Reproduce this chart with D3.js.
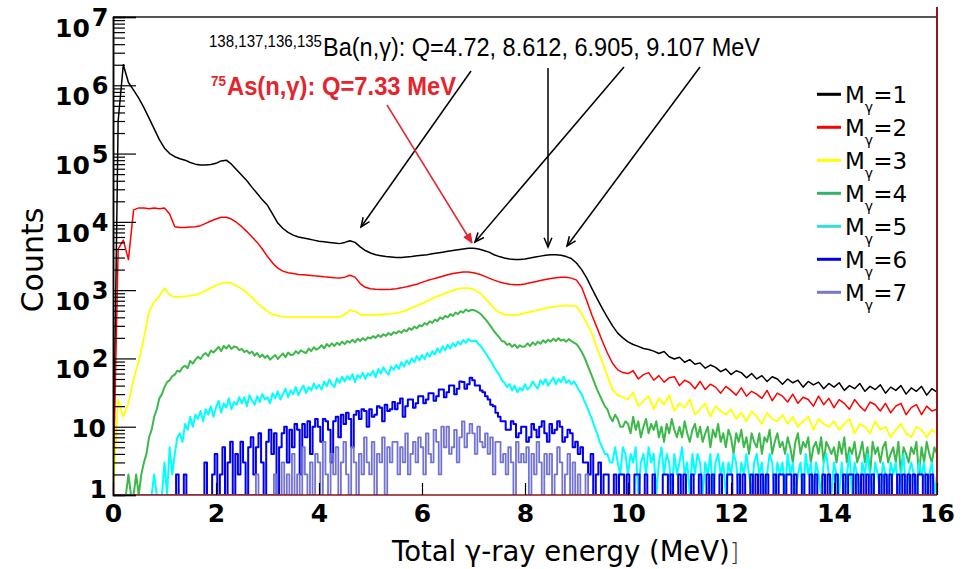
<!DOCTYPE html>
<html><head><meta charset="utf-8">
<script src="https://cdn.jsdelivr.net/npm/d3@7"></script>
<style>body{margin:0;background:#fff}svg{display:block}</style>
</head><body><svg id="c" width="973" height="569"></svg>
<script>
// ---------------- DATA ----------------
// histogram bin widths (MeV): M=1..3 stored every 0.1 MeV (161 bins), M=4..7 every 0.05 MeV (321 bins)
const seriesBinWidth = [0.1,0.1,0.1,0.05,0.05,0.05,0.05];
const legendNames = ["1","2","3","4","5","6","7"];
const seriesColors = ["#000000","#ff0000","#ffff00","#3cb94a","#00ffff","#0000ee","#7373d2"];
const legendColors = ["#000000","#ff0000","#ffff00","#33b36a","#33dddd","#0000ee","#7878c8"];

const m1 = [
1,3e5,2.0e6,1.1e6,8.5e5,6.5e5,4.7e5,3.3e5,2.3e5,1.6e5,
1.2e5,1.0e5,9.0e4,8.4e4,8.0e4,7.4e4,7.0e4,6.8e4,6.8e4,6.9e4,
7.2e4,7.8e4,8.0e4,7.0e4,5.8e4,4.8e4,4.0e4,3.2e4,2.6e4,2.1e4,
1.75e4,1.3e4,9.6e3,8.0e3,7.0e3,6.4e3,6.0e3,5.8e3,5.6e3,5.4e3,
5.2e3,5.1e3,5.0e3,4.9e3,4.8e3,5.0e3,5.3e3,5.0e3,4.3e3,3.8e3,
3.5e3,3.3e3,3.2e3,3.1e3,3.05e3,3.0e3,3.0e3,3.05e3,3.1e3,3.2e3,
3.25e3,3.3e3,3.4e3,3.5e3,3.6e3,3.7e3,3.8e3,3.9e3,4.0e3,4.1e3,
4.1e3,4.0e3,3.8e3,3.6e3,3.3e3,3.1e3,2.95e3,2.85e3,2.8e3,2.8e3,
2.85e3,2.95e3,3.05e3,3.15e3,3.25e3,3.3e3,3.3e3,3.25e3,3.1e3,2.9e3,
2.5e3,2.0e3,1.5e3,1.05e3,750,540,400,300,235,200,
175,160,150,140,135,128,118,126,106,98,
104,88,96,82,86,72,80,74,64,70,
58,66,62,52,60,50,56,46,54,50,
42,50,44,48,38,46,41,45,36,43,
38,44,34,40,36,43,33,39,35,41,
31,38,34,40,30,37,33,39,29,36,
32];
const m2 = [
1,4000,5400,2800,1.5e4,1.6e4,1.6e4,1.55e4,1.6e4,1.55e4,
1.6e4,1.3e4,8.5e3,8.3e3,8.3e3,8.4e3,8.5e3,8.8e3,9.5e3,1.03e4,
1.1e4,1.17e4,1.17e4,1.1e4,9.8e3,8.5e3,7.2e3,6.0e3,5.0e3,4.0e3,
3.1e3,2.5e3,2.1e3,1.9e3,1.8e3,1.75e3,1.7e3,1.68e3,1.65e3,1.62e3,
1.6e3,1.57e3,1.55e3,1.52e3,1.5e3,1.55e3,1.65e3,1.55e3,1.25e3,1.1e3,
1.05e3,1.03e3,1.02e3,1.02e3,1.03e3,1.05e3,1.08e3,1.12e3,1.17e3,1.22e3,
1.3e3,1.38e3,1.45e3,1.52e3,1.6e3,1.68e3,1.75e3,1.8e3,1.85e3,1.85e3,
1.8e3,1.72e3,1.62e3,1.5e3,1.4e3,1.32e3,1.26e3,1.22e3,1.2e3,1.2e3,
1.23e3,1.28e3,1.33e3,1.38e3,1.43e3,1.48e3,1.52e3,1.55e3,1.55e3,1.5e3,
1.4e3,1.1e3,700,430,280,180,120,85,68,62,
60,66,50,58,62,48,56,45,52,54,
40,48,44,36,46,35,42,38,31,39,
34,29,37,28,33,30,26,34,24,31,
28,23,30,22,27,25,20,28,21,26,
19,25,22,18,25,20,17,23,21,17,
22,16,20,22,15,19,21,15,20,17,
18];
const m3 = [
1,25,14,22,50,90,200,480,680,820,
1070,850,790,800,810,830,850,900,980,1080,
1180,1260,1300,1260,1150,1050,920,780,650,560,
490,440,420,410,405,405,405,405,405,405,
405,405,405,405,405,440,510,490,440,430,
430,435,440,445,450,460,480,510,550,590,
640,690,750,810,870,930,990,1040,1070,1070,
1030,930,800,660,540,470,440,430,430,440,
460,480,500,520,545,565,580,590,600,590,
580,450,330,230,140,90,55,35,29,27,
25,32,20,24,28,18,26,21,29,17,
22,19,25,15,18,22,14,20,17,15,
18,13,16,12,17,14,11,16,13,12,
15,11,14,10,12,14,9,13,11,10,
12,9,11,13,8,11,10,8,12,9,
10,7,9,11,8,7,10,9,7,9,
8];
const m4 = [
1,1,1,1,1,1,2,1,1,2,
1,2,3,4,7,9,14,18,26,30,
38,45,48,55,58,66,64,74,78,72,
92,84,96,106,98,112,120,108,130,122,
134,148,128,152,140,156,138,150,146,132,
138,124,130,118,126,110,120,104,114,102,
110,96,104,112,98,108,118,104,122,112,
114,128,118,132,124,120,140,128,146,134,
142,156,140,162,150,166,152,170,158,176,
162,180,170,188,172,194,180,198,184,204,
196,212,200,220,206,226,214,236,220,242,
232,252,238,262,250,278,262,292,276,306,
296,330,312,350,330,372,352,400,378,420,
400,445,420,470,445,492,470,520,490,512,
510,495,470,440,400,360,320,285,250,225,
204,180,176,158,164,148,160,142,156,148,
150,166,152,172,158,176,164,184,170,188,
176,194,180,198,182,190,176,192,180,170,
162,145,125,105,85,68,55,44,35,29,
24,20,18,14,12,15,13,10,10,12,
11,8,14,9,12,7,10,13,8,11,
9,12,7,10,6,11,8,13,9,7,
10,7,12,8,6,9,11,7,10,6,
8,10,5,9,7,11,6,8,5,9,
7,4,8,6,9,5,7,4,8,6,
5,8,4,7,6,9,4,6,8,5,
6,4,7,5,3,6,8,4,6,5,
7,3,5,6,4,7,3,6,5,4,
5,3,6,4,7,3,5,4,6,3,
4,6,3,5,2,6,4,5,3,5,
6,3,4,5,3,6,2,5,4,3,
5,4,6,2,5,3,6,4,3,5,
4];
const m5 = [
1,1,1,1,1,1,1,1,1,1,
1,1,1,1,1,1,2,1,1,1,
3,1,5,2,4,7,8,6,11,9,
14,10,15,13,17,12,18,15,20,14,
19,24,16,22,19,26,18,23,21,27,
22,27,20,29,24,21,28,23,30,25,
27,22,31,26,33,25,30,36,27,34,
30,38,29,35,40,31,38,34,43,36,
41,35,46,39,49,42,38,51,44,54,
46,55,49,59,45,57,52,62,50,60,
56,66,53,70,60,74,64,58,76,68,
80,70,88,76,94,82,100,88,108,94,
112,98,120,106,128,114,140,122,150,132,
158,140,168,150,176,160,186,170,192,178,
180,182,160,150,130,115,100,88,75,65,
58,48,44,38,42,34,40,32,37,34,
42,35,38,46,40,36,48,42,50,40,
46,52,42,50,45,54,44,48,42,46,
40,34,30,24,20,16,13,10,8,6,
5,4,4,3,3,5,3,2,5,4,
2,4,3,5,1,3,4,2,5,3,
4,1,3,5,2,4,3,1,4,2,
3,5,2,3,1,4,2,4,3,1,
3,2,4,1,3,4,2,3,1,3,
2,4,3,1,3,2,4,2,1,3,
4,2,3,1,2,4,3,1,3,2,
3,1,4,2,3,1,2,3,1,4,
2,3,1,3,2,1,3,4,2,1,
3,2,1,3,1,2,4,1,3,2,
1,3,2,4,2,1,3,2,1,3,
2,1,3,2,3,1,2,4,1,2,
3,2,1,3,2,3,1,2,3,1,
2];
const m6 = [
1,1,1,1,1,1,1,1,1,1,
1,1,1,1,1,1,1,1,1,1,
1,1,1,1,1,2,1,1,2,1,
1,1,1,1,1,1,3,1,1,2,
4,1,2,5,1,3,6,1,4,2,
6,3,1,5,7,2,5,8,3,1,
6,9,4,8,1,5,8,10,3,9,
5,11,9,2,11,7,12,4,10,13,
10,6,13,12,9,3,12,14,7,15,
11,16,13,5,15,17,13,18,17,10,
18,14,15,20,19,12,21,17,18,23,
18,22,26,14,20,25,25,19,22,28,
28,22,25,31,31,24,28,35,35,27,
32,40,40,30,36,46,45,36,42,52,
48,40,40,34,32,28,25,21,20,16,
14,12,12,9,9,12,11,7,8,10,
10,6,7,11,9,7,10,12,8,6,
11,8,9,12,10,6,7,9,8,5,
6,4,5,3,3,2,4,1,2,3,
1,2,2,1,1,2,1,2,2,1,
2,1,1,2,2,1,1,2,1,1,
2,1,1,1,2,2,1,2,1,1,
2,1,2,1,1,2,1,1,2,1,
1,2,1,2,1,1,2,1,1,2,
2,1,1,2,1,2,1,1,2,1,
2,1,2,1,2,1,1,2,1,2,
2,1,2,2,1,2,1,1,2,1,
1,2,1,2,1,1,2,1,2,1,
1,2,1,1,2,1,2,2,1,2,
1,2,1,2,1,2,1,1,2,1,
2,1,2,1,1,2,1,2,1,2,
1,2,1,2,2,1,2,1,2,1,
1];
const m7 = [
1,1,1,1,1,1,1,1,1,1,
1,1,1,1,1,1,1,1,1,1,
1,1,1,1,1,1,1,1,1,1,
1,1,1,1,1,1,1,1,1,1,
1,1,1,1,1,1,1,1,1,1,
1,1,1,1,1,1,2,1,1,1,
1,1,1,2,1,1,3,1,2,1,
4,1,2,1,5,2,1,3,1,4,
3,1,6,2,1,4,2,5,1,3,
6,2,1,5,3,1,4,2,7,3,
2,6,1,4,3,7,1,5,3,6,
6,2,5,3,8,2,4,6,3,7,
5,2,8,4,3,9,6,2,10,5,
10,4,5,9,3,7,12,5,8,11,
8,4,10,6,5,8,4,7,2,6,
6,3,4,2,5,3,1,6,3,4,
3,5,1,4,2,6,3,1,4,2,
4,1,2,5,3,1,2,4,1,3,
1,2,1,1,2,1,1,1,1,1,
1,1,1,1,1,1,1,1,1,1,
1,1,1,1,1,1,1,1,1,1,
1,1,1,1,1,1,1,1,1,1,
1,1,1,1,1,1,1,1,1,1,
1,1,1,1,1,1,1,1,1,1,
1,1,1,1,1,1,1,1,1,1,
1,1,1,1,1,1,1,1,1,1,
1,1,1,1,1,1,1,1,1,1,
1,1,1,1,1,1,1,1,1,1,
1,1,1,1,1,1,1,1,1,1,
1,1,1,1,1,1,1,1,1,1,
1,1,1,1,1,1,1,1,1,1,
1,1,1,1,1,1,1,1,1,1,
1];
const seriesValues = [m1,m2,m3,m4,m5,m6,m7];
const xTickValues = [0,2,4,6,8,10,12,14,16];
const yDecades = [0,1,2,3,4,5,6,7];
const baLabelSup = "138,137,136,135";
const baLabelMain = "Ba(n,\u03b3): Q=4.72, 8.612, 6.905, 9.107 MeV";
const asLabelSup = "75";
const asLabelMain = "As(n,\u03b3): Q=7.33 MeV";

// ---------------- CHART ----------------
const svg = d3.select("#c");
const L = 113, R = 937, T = 17, B = 495;
const x = d3.scaleLinear().domain([0,16]).range([L,R]);
const y = d3.scaleLog().domain([1,1e7]).range([B,T]);
const strokeW = [1.5,1.5,1.8,2.0,2.0,2.0,1.8];

svg.append("defs").append("clipPath").attr("id","clip")
  .append("rect").attr("x",L).attr("y",T-2).attr("width",R-L).attr("height",B-T+2);

const g = svg.append("g").attr("clip-path","url(#clip)");
seriesValues.forEach((vals,k)=>{
  const w = seriesBinWidth[k];
  const line = d3.line().x((d,i)=>x(i*w)).y(d=>y(Math.max(1,d)))
    .curve(k>=5 ? d3.curveStep : d3.curveLinear);
  g.append("path").datum(vals).attr("d",line)
    .attr("fill","none").attr("stroke",seriesColors[k])
    .attr("stroke-width", strokeW[k]).attr("stroke-linejoin","round");
});

// frame
svg.append("line").attr("x1",L).attr("x2",R).attr("y1",T).attr("y2",T).attr("stroke","#555").attr("stroke-width",2);
svg.append("line").attr("x1",R).attr("x2",R).attr("y1",T-10).attr("y2",B).attr("stroke","#8b1a1a").attr("stroke-width",2);
svg.append("line").attr("x1",L).attr("x2",R).attr("y1",B).attr("y2",B).attr("stroke","#8b1a1a").attr("stroke-width",1.5);

// y axis (ticks inside)
const allTicks = y.ticks();
const major = allTicks.filter(v => Math.abs(Math.log10(v)-Math.round(Math.log10(v)))<1e-9);
const minor = allTicks.filter(v => major.indexOf(v)<0);
const ya1 = svg.append("g").attr("transform",`translate(${L},0)`)
  .call(d3.axisRight(y).tickValues(major).tickSize(23).tickFormat(""));
const ya2 = svg.append("g").attr("transform",`translate(${L},0)`)
  .call(d3.axisRight(y).tickValues(minor).tickSize(12).tickFormat(""));
[ya1,ya2].forEach(a=>{a.selectAll("path").attr("stroke","#000").attr("stroke-width",1.5);
  a.selectAll("line").attr("stroke","#000").attr("stroke-width",1.2);});

// y labels
const yl = svg.append("g").attr("font-family","DejaVu Sans, Arial, sans-serif").attr("font-weight","bold").attr("fill","#000");
yDecades.forEach(n=>{
  const ty = y(Math.pow(10,n));
  if(n>=2){
    const t = yl.append("text").attr("x",55).attr("y",ty+20).attr("font-size",25);
    t.append("tspan").text("10");
    t.append("tspan").attr("dx",2).attr("dy",-11).attr("font-size",24).text(n);
  } else if(n===1){
    yl.append("text").attr("x",106).attr("y",ty+10).attr("text-anchor","end").attr("font-size",25).text("10");
  } else {
    yl.append("text").attr("x",107).attr("y",ty+3).attr("text-anchor","end").attr("font-size",25).text("1");
  }
});

// x axis
const xa = svg.append("g").attr("transform",`translate(0,${B})`)
  .call(d3.axisTop(x).tickValues(xTickValues).tickSize(12).tickFormat(""));
xa.select("path").remove();
xa.selectAll("line").attr("stroke","#000").attr("stroke-width",1.2);
const xl = svg.append("g").attr("transform",`translate(0,${B})`)
  .call(d3.axisBottom(x).tickValues(xTickValues).tickSize(0).tickPadding(9).tickFormat(d3.format("d")));
xl.select("path").remove();
xl.selectAll("text").attr("font-family","DejaVu Sans, Arial, sans-serif").attr("font-weight","bold")
  .attr("font-size",25).attr("fill","#000").attr("dy","0.71em");

// axis titles
svg.append("text").attr("transform","translate(43,260) rotate(-90)").attr("text-anchor","middle")
  .attr("font-family","DejaVu Sans, Arial, sans-serif").attr("font-size",30).attr("fill","#000").text("Counts");
const xt = svg.append("text").attr("x",392).attr("y",561)
  .attr("font-family","DejaVu Sans, Arial, sans-serif").attr("font-size",27.5).attr("fill","#000");
xt.append("tspan").text("Total \u03b3-ray energy (MeV)");
xt.append("tspan").attr("font-size",24).attr("font-weight","300").attr("fill","#333").text("]");

// annotations
const ann = svg.append("g").attr("font-family","Liberation Sans, Arial, sans-serif");
const baT = ann.append("text").attr("x",209).attr("y",56).attr("fill","#000");
baT.append("tspan").attr("font-size",16).attr("dy",-9).attr("textLength",113).attr("lengthAdjust","spacingAndGlyphs").text(baLabelSup);
baT.append("tspan").attr("font-size",26).attr("dy",9).attr("dx",1).attr("textLength",437).attr("lengthAdjust","spacingAndGlyphs").text(baLabelMain);
const asT = ann.append("text").attr("x",211).attr("y",95).attr("font-weight","bold").attr("fill","#e3262e");
asT.append("tspan").attr("font-size",15).attr("dy",-9).attr("textLength",15).attr("lengthAdjust","spacingAndGlyphs").text(asLabelSup);
asT.append("tspan").attr("font-size",25).attr("dy",9).attr("dx",1).attr("textLength",229).attr("lengthAdjust","spacingAndGlyphs").text(asLabelMain);

function arrow(x1,y1,x2,y2,color,filled){
  svg.append("line").attr("x1",x1).attr("y1",y1).attr("x2",x2).attr("y2",y2).attr("stroke",color).attr("stroke-width",1.5);
  const a = Math.atan2(y2-y1,x2-x1), len=10, sp=0.4;
  const p1=[x2-len*Math.cos(a-sp), y2-len*Math.sin(a-sp)], p2=[x2-len*Math.cos(a+sp), y2-len*Math.sin(a+sp)];
  if(filled){
    svg.append("path").attr("d",`M${p1}L${x2},${y2}L${p2}Z`).attr("fill",color).attr("stroke",color);
  } else {
    svg.append("path").attr("d",`M${p1}L${x2},${y2}L${p2}`).attr("fill","none").attr("stroke",color).attr("stroke-width",1.5);
  }
}
arrow(471,71,361,227,"#000",false);
arrow(548,68,548,247,"#000",false);
arrow(624,67,475,242,"#000",false);
arrow(700,67,567,246,"#000",false);
arrow(387,105,472,243,"#e3262e",true);

// legend
const lg = svg.append("g").attr("font-family","DejaVu Sans, Arial, sans-serif").attr("fill","#000");
legendNames.forEach((n,i)=>{
  const ly = 94.3 + i*33;
  lg.append("line").attr("x1",817).attr("x2",841).attr("y1",ly).attr("y2",ly)
    .attr("stroke",legendColors[i]).attr("stroke-width",3);
  const t = lg.append("text").attr("x",845).attr("y",ly+9).attr("font-size",23);
  t.append("tspan").text("M");
  t.append("tspan").attr("font-size",14).attr("dx",0).attr("dy",9).text("\u03b3");
  t.append("tspan").attr("dx",0).attr("dy",-9).text("="+n);
});
</script></body></html>
